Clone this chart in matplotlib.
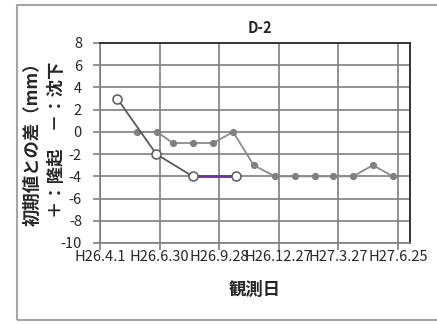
import numpy as np
import matplotlib
matplotlib.use("Agg")
import matplotlib.pyplot as plt
from matplotlib.patches import Rectangle

plt.rcParams['font.family'] = ['Noto Sans CJK JP', 'DejaVu Sans']
plt.rcParams['axes.unicode_minus'] = False

# ===== データ =====
dot_dates = np.array(["2014-05-27", "2014-06-26", "2014-07-20", "2014-08-19",
                      "2014-09-19", "2014-10-19", "2014-11-19", "2014-12-21",
                      "2015-01-21", "2015-02-20", "2015-03-19", "2015-04-18",
                      "2015-05-18", "2015-06-17"], dtype="datetime64[D]")
dot_vals = [0, 0, -1, -1, -1, 0, -3, -4, -4, -4, -4, -4, -3, -4]

open_dates = np.array(["2014-04-27", "2014-06-25", "2014-08-19", "2014-10-23"],
                      dtype="datetime64[D]")
open_vals = [3, -2, -4, -4]

tick_dates = np.array(["2014-04-01", "2014-06-30", "2014-09-28", "2014-12-27",
                       "2015-03-27", "2015-06-25"], dtype="datetime64[D]")
tick_labels = ["H26.4.1", "H26.6.30", "H26.9.28", "H26.12.27", "H27.3.27", "H27.6.25"]
x_start, x_end = np.datetime64("2014-04-01"), np.datetime64("2015-07-13")

fig = plt.figure(figsize=(4.37, 3.24), dpi=100)
ax = fig.add_axes([100 / 437, 1 - 243 / 324, 310 / 437, 200 / 324])

# 外枠
fig.patches.append(Rectangle((17 / 437, 1 - 320 / 324), 425 / 437, 315 / 324,
                             transform=fig.transFigure, fill=False,
                             ec="#a6a6a6", lw=1.5))

gcol = "#808080"
ax.plot(dot_dates, dot_vals, "-o", color="#8c8c8c", lw=1.3, markersize=4.2,
        mfc=gcol, mec=gcol, zorder=3)
ax.plot(open_dates[:3], open_vals[:3], "-", color="#595959", lw=1.3, zorder=4)
ax.plot(open_dates[2:], open_vals[2:], "-", color="#7030a0", lw=2, zorder=4)
ax.plot(open_dates, open_vals, "o", markersize=6.5, mfc="white", mec="#595959",
        mew=1.1, zorder=5)

ax.set_ylim(-10, 8)
ax.set_yticks(range(-10, 9, 2))
ax.set_xlim(x_start, x_end)
ax.set_xticks(tick_dates)
ax.set_xticklabels(tick_labels)
ax.grid(True, color="#7f7f7f", lw=1.2)
ax.set_axisbelow(True)
ax.tick_params(axis="both", colors="#7f7f7f", labelcolor="#262626",
               labelsize=10.5, length=5, width=1.2)
ax.tick_params(axis="x", pad=0)
ax.tick_params(axis="y", pad=8)
for s in ["left", "bottom"]:
    ax.spines[s].set_color("#7f7f7f")
    ax.spines[s].set_linewidth(1.2)
for s in ["top", "right"]:
    ax.spines[s].set_color("#333333")
    ax.spines[s].set_linewidth(1.4)

fig.text(260 / 437, 1 - 28 / 324, "D-2", ha="center", va="center",
         fontsize=10.5, fontweight="bold", color="#262626")
fig.text(255 / 437, 1 - 290 / 324, "観測日", ha="center", va="center",
         fontsize=12.5, fontweight="bold", color="#262626")
fig.text(45 / 437, 1 - 140 / 324, "初期値との差（mm）\n＋：隆起　－：沈下",
         rotation=90, ha="center", va="center", fontsize=12.5,
         fontweight="bold", color="#262626", linespacing=1.45)

fig.savefig("out.png", dpi=100)
